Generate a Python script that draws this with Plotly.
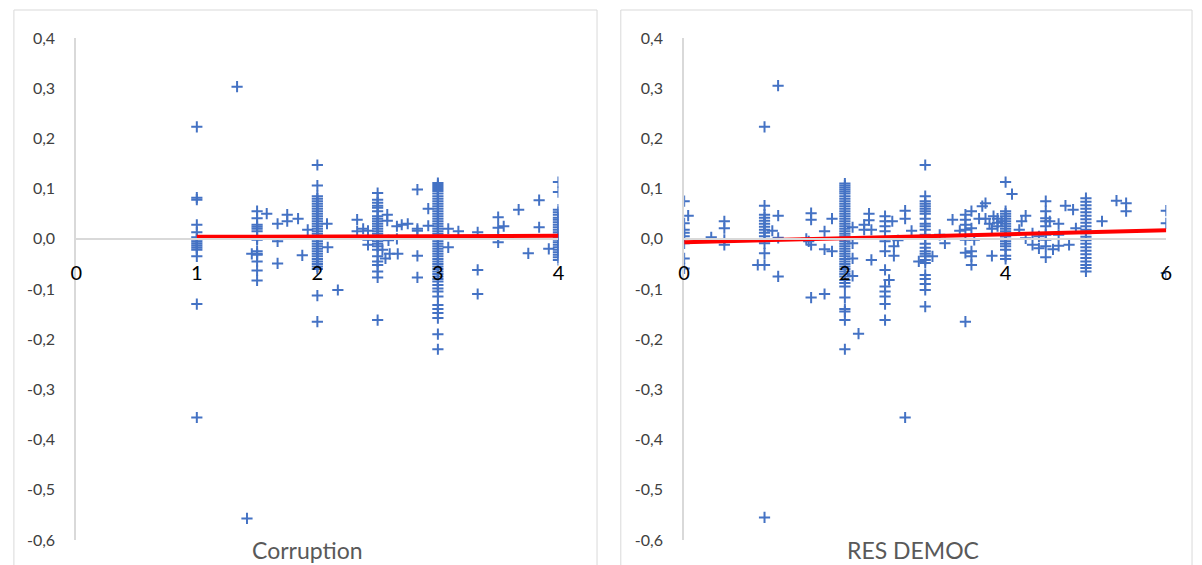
import plotly.graph_objects as go

# ---------------- data: left panel (Corruption) ----------------
corr_col_x = [1, 1.5, 2, 2.5, 3, 4]
corr_col_y = [
    [0.223, 0.082, 0.078, 0.028, 0.013, 0.003, -0.002, -0.006, -0.01, -0.014, -0.018, -0.022, -0.035, -0.13, -0.356],
    [0.055, 0.041, 0.028, 0.024, 0.02, 0.015, 0.005, 0.0, -0.002, -0.025, -0.03, -0.032, -0.045, -0.063, -0.083],
    [0.147, 0.106, 0.085, 0.08, 0.075, 0.07, 0.065, 0.06, 0.055, 0.05, 0.045, 0.04, 0.035, 0.03, 0.025, 0.02,
     0.015, 0.01, 0.005, 0.0, -0.005, -0.01, -0.015, -0.02, -0.025, -0.03, -0.035, -0.04, -0.045, -0.05,
     -0.055, -0.06, -0.113, -0.165],
    [0.091, 0.078, 0.072, 0.066, 0.062, 0.055, 0.045, 0.04, 0.035, 0.03, 0.025, 0.02, 0.015, 0.01, 0.005, 0.0,
     -0.005, -0.01, -0.015, -0.022, -0.035, -0.045, -0.052, -0.065, -0.077, -0.162],
    [0.111, 0.107, 0.103, 0.099, 0.095, 0.09, 0.085, 0.08, 0.075, 0.07, 0.065, 0.06, 0.055, 0.05, 0.045, 0.04,
     0.035, 0.03, 0.025, 0.02, 0.015, 0.01, 0.005, 0.0, -0.005, -0.01, -0.015, -0.02, -0.025, -0.03, -0.035,
     -0.04, -0.045, -0.05, -0.055, -0.06, -0.065, -0.07, -0.075, -0.08, -0.085, -0.092, -0.099, -0.105,
     -0.115, -0.132, -0.14, -0.148, -0.158, -0.19, -0.22],
    [0.113, 0.093, 0.058, 0.053, 0.048, 0.042, 0.038, 0.033, 0.028, 0.023, 0.018, 0.013, 0.008, 0.003, -0.002,
     -0.007, -0.012, -0.017, -0.022, -0.027, -0.032, -0.037, -0.042],
]
corr_other_x = [1.334, 1.416, 1.456, 1.58, 1.67, 1.67, 1.67, 1.75, 1.75, 1.84, 1.875, 1.92, 2.08, 2.086, 2.17,
                2.33, 2.33, 2.38, 2.42, 2.42, 2.42, 2.54, 2.58, 2.58, 2.59, 2.565, 2.6, 2.66, 2.66, 2.667, 2.7,
                2.75, 2.83, 2.83, 2.83, 2.83, 2.83, 2.92, 2.92, 3.086, 3.086, 3.17, 3.33, 3.33, 3.33, 3.5, 3.5,
                3.5, 3.5, 3.546, 3.67, 3.75, 3.84, 3.84, 3.92]
corr_other_y = [0.303, -0.557, -0.03, 0.05, 0.03, -0.005, -0.049, 0.048, 0.035, 0.04, -0.033, 0.018, 0.03, -0.017,
                -0.102, 0.038, 0.015, 0.02, 0.016, -0.002, -0.012, -0.022, 0.048, 0.036, -0.003, -0.039, -0.03,
                0.025, 0.0, -0.03, 0.028, 0.03, 0.098, 0.02, 0.016, -0.034, -0.077, 0.06, 0.026, 0.02, -0.017,
                0.015, 0.013, -0.062, -0.11, 0.043, 0.022, 0.005, -0.007, 0.025, 0.058, -0.029, 0.077, 0.023,
                -0.02]
corr_trend_x = [1, 4]
corr_trend_y = [0.004, 0.006]

# ---------------- data: right panel (RES DEMOC) ----------------
demo_col_x = [0, 0.5, 1, 2, 2.5, 3, 3.5, 4, 4.5, 5, 6]
demo_col_y = [
    [0.075, 0.031, 0.018, 0.012, 0.005, -0.009, -0.039, -0.059],
    [0.035, 0.021, -0.002, -0.012],
    [0.223, 0.066, 0.048, 0.042, 0.036, 0.03, 0.024, 0.018, 0.012, 0.005, -0.009, -0.029, -0.052, -0.555],
    [0.11, 0.106, 0.102, 0.098, 0.094, 0.09, 0.085, 0.08, 0.075, 0.07, 0.065, 0.06, 0.055, 0.05, 0.045, 0.04,
     0.035, 0.03, 0.025, 0.02, 0.015, 0.01, 0.005, 0.0, -0.005, -0.01, -0.015, -0.02, -0.025, -0.03, -0.035,
     -0.04, -0.045, -0.05, -0.055, -0.06, -0.065, -0.07, -0.075, -0.082, -0.088, -0.095, -0.117, -0.14,
     -0.145, -0.162, -0.22],
    [0.045, 0.035, 0.025, 0.015, -0.005, -0.025, -0.062, -0.095, -0.105, -0.115, -0.13, -0.162],
    [0.147, 0.085, 0.075, 0.07, 0.065, 0.06, 0.055, 0.05, 0.04, 0.03, 0.025, 0.018, 0.008, 0.0, -0.01, -0.018,
     -0.025, -0.03, -0.035, -0.042, -0.048, -0.072, -0.08, -0.09, -0.102, -0.135],
    [0.048, 0.038, 0.028, 0.018, -0.002, -0.028, -0.165],
    [0.113, 0.055, 0.05, 0.045, 0.04, 0.035, 0.03, 0.025, 0.02, 0.015, 0.01, 0.005, 0.0, -0.005, -0.01, -0.015,
     -0.022, -0.034, -0.04],
    [0.075, 0.055, 0.041, 0.035, 0.025, 0.008, -0.002, -0.015, -0.037],
    [0.081, 0.074, 0.067, 0.06, 0.053, 0.046, 0.039, 0.032, 0.025, 0.018, 0.011, 0.004, -0.003, -0.01, -0.017,
     -0.024, -0.031, -0.038, -0.045, -0.052, -0.058, -0.065],
    [0.056, 0.031, -0.068],
]
demo_other_x = [0.05, 0.337, 0.916, 1.097, 1.17, 1.17, 1.17, 1.169, 1.52, 1.55, 1.58, 1.58, 1.58, 1.58, 1.747,
                1.747, 1.747, 1.84, 1.84, 2.096, 2.096, 2.096, 2.096, 2.17, 2.24, 2.24, 2.3, 2.3, 2.33, 2.33,
                2.55, 2.59, 2.61, 2.61, 2.66, 2.75, 2.75, 2.83, 2.92, 2.75, 3.09, 3.18, 3.245, 3.34, 3.43,
                3.575, 3.575, 3.575, 3.575, 3.575, 3.61, 3.67, 3.71, 3.75, 3.75, 3.8, 3.83, 3.83, 3.85, 3.9,
                3.9, 3.9, 3.95, 4.08, 4.17, 4.2, 4.25, 4.25, 4.335, 4.335, 4.415, 4.415, 4.55, 4.59, 4.66,
                4.66, 4.66, 4.745, 4.79, 4.84, 4.875, 5.2, 5.38, 5.5, 5.5]
demo_other_y = [0.046, 0.003, -0.052, 0.016, 0.046, 0.002, -0.075, 0.305, 0.0, -0.005, 0.051, 0.038, -0.012,
                -0.117, 0.015, -0.021, -0.11, 0.04, -0.025, 0.023, -0.009, -0.039, -0.074, -0.189, 0.028,
                0.018, 0.05, 0.037, 0.018, -0.042, -0.082, 0.035, -0.015, -0.034, -0.003, 0.056, 0.04, 0.016,
                -0.045, -0.356, -0.035, 0.008, -0.009, 0.038, 0.016, 0.055, 0.021, -0.025, -0.035, -0.052,
                -0.002, 0.04, 0.065, 0.071, 0.04, 0.03, -0.034, 0.02, 0.045, 0.04, 0.032, 0.025, 0.035, 0.089,
                0.018, 0.035, 0.046, 0.001, 0.011, -0.012, 0.005, -0.019, 0.035, -0.021, 0.03, 0.008, -0.014,
                0.066, -0.012, 0.058, 0.021, 0.035, 0.076, 0.071, 0.055]
demo_trend_x = [0, 6]
demo_trend_y = [-0.007, 0.017]

# ---------------- axis labels ----------------
y_tickvals = [0.4, 0.3, 0.2, 0.1, 0.0, -0.1, -0.2, -0.3, -0.4, -0.5, -0.6]
y_ticktext = ["0,4", "0,3", "0,2", "0,1", "0,0", "-0,1", "-0,2", "-0,3", "-0,4", "-0,5", "-0,6"]
corr_xticks = [0, 1, 2, 3, 4]
demo_xticks = [0, 2, 4, 6]
titles = ["Corruption", "RES DEMOC"]

# ---------------- build ----------------
W, H = 1202, 565
TOP, BOT = 38, 540
def px_x(p):
    return p / W
def px_y(p):
    return (BOT - p) / (BOT - TOP)

BLUE = "#4472C4"
marker = dict(symbol="cross-thin", size=8, color=BLUE, line=dict(color=BLUE, width=2))

def expand(cols_x, cols_y, ox, oy):
    xs, ys = [], []
    for cx, vals in zip(cols_x, cols_y):
        xs += [cx] * len(vals)
        ys += list(vals)
    return xs + list(ox), ys + list(oy)

cx, cy = expand(corr_col_x, corr_col_y, corr_other_x, corr_other_y)
dx, dy = expand(demo_col_x, demo_col_y, demo_other_x, demo_other_y)

fig = go.Figure()
fig.add_trace(go.Scatter(x=cx, y=cy, mode="markers", marker=marker, xaxis="x", yaxis="y", showlegend=False))
fig.add_trace(go.Scatter(x=corr_trend_x, y=corr_trend_y, mode="lines", line=dict(color="#FF0000", width=4),
                         xaxis="x", yaxis="y", showlegend=False))
fig.add_trace(go.Scatter(x=dx, y=dy, mode="markers", marker=marker, xaxis="x2", yaxis="y2", showlegend=False))
fig.add_trace(go.Scatter(x=demo_trend_x, y=demo_trend_y, mode="lines", line=dict(color="#FF0000", width=4),
                         xaxis="x2", yaxis="y2", showlegend=False))

zero_pos = (0 - (-0.6)) / (0.4 - (-0.6))
xcommon = dict(anchor="free", position=zero_pos, showline=True, linecolor="#D9D9D9", linewidth=2,
               showgrid=False, zeroline=False, ticks="", ticklabelstandoff=16,
               tickfont=dict(family="Lato", size=20, color="#000000"))
ycommon = dict(range=[-0.6, 0.4], tickvals=y_tickvals, ticktext=y_ticktext, showline=True,
               linecolor="#D9D9D9", linewidth=2, showgrid=False, zeroline=False, ticks="",
               ticklabelstandoff=16, tickfont=dict(family="Lato", size=16, color="#404040"))

fig.update_layout(
    width=W, height=H,
    margin=dict(l=0, r=0, t=TOP, b=H - BOT, pad=0),
    paper_bgcolor="white", plot_bgcolor="white",
    font=dict(family="Lato"),
    xaxis=dict(domain=[px_x(71), px_x(558)], range=[0, 4], tickvals=corr_xticks, **xcommon),
    yaxis=dict(domain=[0, 1], anchor="x", **ycommon),
    xaxis2=dict(domain=[px_x(685), px_x(1172)], range=[0, 6], tickvals=demo_xticks, **xcommon),
    yaxis2=dict(domain=[0, 1], anchor="x2", **ycommon),
    shapes=[
        dict(type="rect", xref="paper", yref="paper", x0=px_x(8), x1=px_x(597), y0=px_y(580), y1=px_y(10),
             line=dict(color="#D9D9D9", width=1), fillcolor="rgba(0,0,0,0)", layer="below"),
        dict(type="rect", xref="paper", yref="paper", x0=px_x(621), x1=px_x(1198), y0=px_y(580), y1=px_y(10),
             line=dict(color="#D9D9D9", width=1), fillcolor="rgba(0,0,0,0)", layer="below"),
    ],
    annotations=[
        dict(text=titles[0], x=px_x(305), y=px_y(550), xref="paper", yref="paper", showarrow=False,
             xanchor="center", yanchor="middle", font=dict(family="Lato", size=23, color="#595959")),
        dict(text=titles[1], x=px_x(916), y=px_y(550), xref="paper", yref="paper", showarrow=False,
             xanchor="center", yanchor="middle", font=dict(family="Lato", size=23, color="#595959")),
    ],
)

fig.write_html("out.html", config={"displayModeBar": False},
               post_script="document.body.style.margin='0';")
